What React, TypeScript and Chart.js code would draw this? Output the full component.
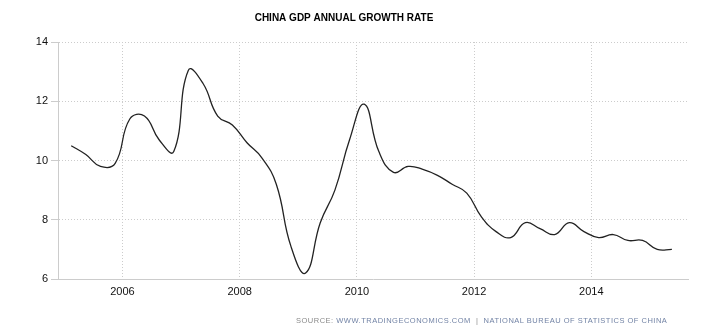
import { useEffect, useRef } from "react";
import { Chart, registerables } from "chart.js";

Chart.register(...registerables);

const titleText = "CHINA GDP ANNUAL GROWTH RATE";

const quarterLabels = [
  "2005Q1", "2005Q2", "2005Q3", "2005Q4",
  "2006Q1", "2006Q2", "2006Q3", "2006Q4",
  "2007Q1", "2007Q2", "2007Q3", "2007Q4",
  "2008Q1", "2008Q2", "2008Q3", "2008Q4",
  "2009Q1", "2009Q2", "2009Q3", "2009Q4",
  "2010Q1", "2010Q2", "2010Q3", "2010Q4",
  "2011Q1", "2011Q2", "2011Q3", "2011Q4",
  "2012Q1", "2012Q2", "2012Q3", "2012Q4",
  "2013Q1", "2013Q2", "2013Q3", "2013Q4",
  "2014Q1", "2014Q2", "2014Q3", "2014Q4",
  "2015Q1", "2015Q2",
];

const gdpGrowth = [
  10.5, 10.2, 9.8, 9.9,
  11.4, 11.5, 10.7, 10.3,
  13.05, 12.6, 11.5, 11.2,
  10.6, 10.1, 9.2, 7.1,
  6.2, 7.9, 9.0, 10.7,
  11.9, 10.3, 9.6, 9.8,
  9.7, 9.5, 9.2, 8.9,
  8.1, 7.6, 7.4, 7.9,
  7.7, 7.5, 7.9, 7.6,
  7.4, 7.5, 7.3, 7.3,
  7.0, 7.0,
];

const xTickYears = [2006, 2008, 2010, 2012, 2014];
const yTickValues = [6, 8, 10, 12, 14];

const sourceLabel = "SOURCE:";
const sourceSite = "WWW.TRADINGECONOMICS.COM";
const sourceOrg = "NATIONAL BUREAU OF STATISTICS OF CHINA";

// mid-quarter position as a fractional year
function quarterToYear(label: string): number {
  const y = parseInt(label.slice(0, 4), 10);
  const q = parseInt(label.slice(5), 10);
  return y + (q - 1) / 4 + 0.125;
}

const tickFont = { family: '"Liberation Sans", Arial, sans-serif', size: 11 };

export default function App() {
  const ref = useRef<HTMLCanvasElement>(null);

  useEffect(() => {
    if (!ref.current) return;
    const chart = new Chart(ref.current, {
      type: "line",
      data: {
        datasets: [
          {
            data: quarterLabels.map((l, i) => ({ x: quarterToYear(l), y: gdpGrowth[i] })),
            borderColor: "#222222",
            borderWidth: 1.3,
            pointRadius: 0,
            tension: 0.45,
            fill: false,
          },
        ],
      },
      options: {
        responsive: false,
        animation: false,
        events: [],
        layout: { padding: { left: 0, right: 22, top: 0, bottom: 38 } },
        plugins: {
          legend: { display: false },
          tooltip: { enabled: false },
          title: {
            display: true,
            text: titleText,
            color: "#000000",
            font: { family: '"Liberation Sans", Arial, sans-serif', size: 10, weight: "bold", lineHeight: 1.2 },
            padding: { top: 12, bottom: 18 },
          },
        },
        scales: {
          x: {
            type: "linear",
            min: 2004.9,
            max: 2015.65,
            afterBuildTicks: (s: any) => {
              s.ticks = xTickYears.map((v) => ({ value: v }));
            },
            afterFit: (s: any) => {
              s.height = 19;
            },
            ticks: {
              callback: (v: any) => String(v),
              color: "#111111",
              font: tickFont,
              padding: 6,
              maxRotation: 0,
              autoSkip: false,
            },
            grid: { color: "#cccccc", drawTicks: false, lineWidth: 1 },
            border: { color: "#cccccc", width: 1, dash: [1, 2] },
          },
          y: {
            min: 6,
            max: 14,
            afterBuildTicks: (s: any) => {
              s.ticks = yTickValues.map((v) => ({ value: v }));
            },
            afterFit: (s: any) => {
              s.width = 58;
            },
            ticks: {
              callback: (v: any) => String(v),
              color: "#111111",
              font: tickFont,
              padding: 3,
            },
            grid: {
              color: "#cccccc",
              lineWidth: 1,
              tickLength: 7,
              tickColor: "#cccccc",
              tickBorderDash: [],
            },
            border: { color: "#cccccc", width: 1, dash: [1, 2] },
          },
        },
      },
    });
    return () => chart.destroy();
  }, []);

  return (
    <div style={{ position: "fixed", left: 0, top: 0, width: 710, height: 336, background: "#fff" }}>
      <canvas ref={ref} width={710} height={336} style={{ display: "block" }} />
      <div
        style={{
          position: "absolute",
          left: 296,
          top: 315,
          fontFamily: '"Liberation Sans", Arial, sans-serif',
          fontSize: 7.5,
          letterSpacing: "0.5px",
          lineHeight: "11px",
          whiteSpace: "pre",
          color: "#8a8a8a",
        }}
      >
        <span>{sourceLabel} </span>
        <span style={{ color: "#7283a5" }}>{sourceSite}</span>
        <span>{"  |  "}</span>
        <span style={{ color: "#7283a5" }}>{sourceOrg}</span>
      </div>
    </div>
  );
}
